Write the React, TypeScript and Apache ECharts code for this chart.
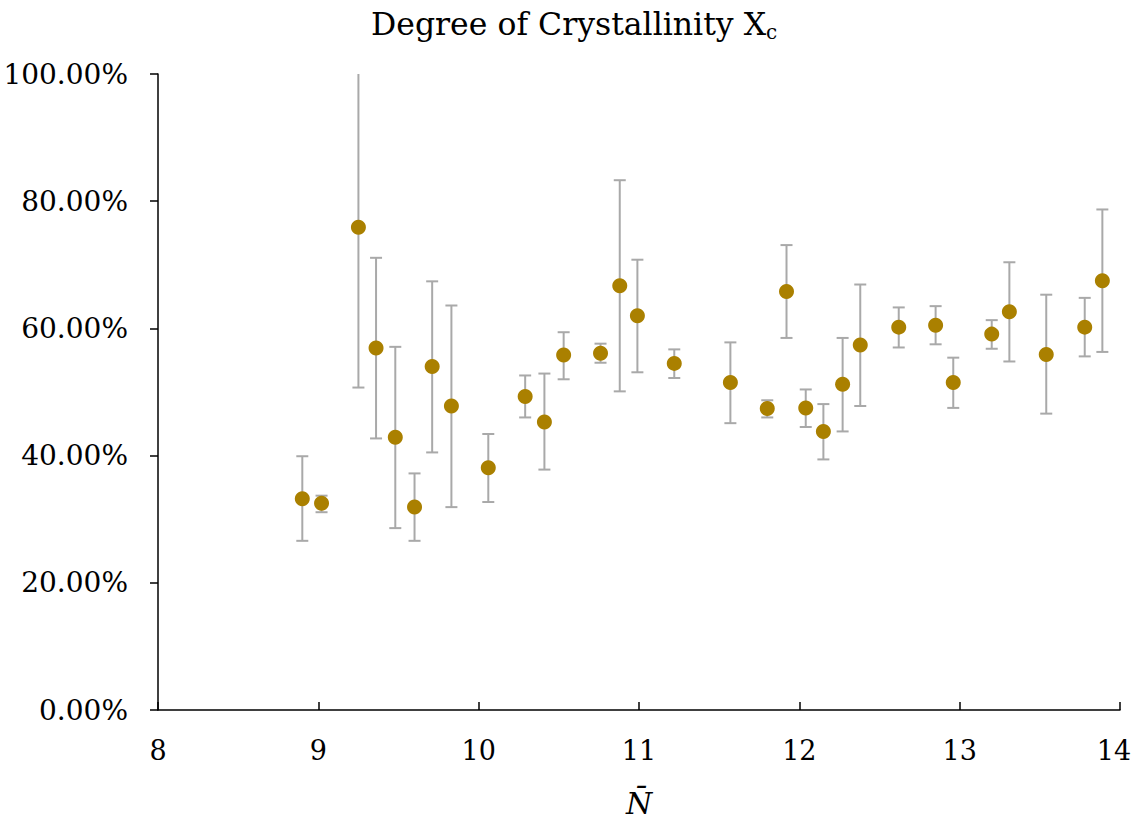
import React, { useEffect, useRef } from "react";
import * as echarts from "echarts";

const nValues = [8.9, 9.02, 9.25, 9.36, 9.48, 9.6, 9.71, 9.83, 10.06, 10.29, 10.41, 10.53, 10.76, 10.88, 10.99, 11.22, 11.57, 11.8, 11.92, 12.04, 12.15, 12.27, 12.38, 12.62, 12.85, 12.96, 13.2, 13.31, 13.54, 13.78, 13.89];
const xcValues = [33.2, 32.5, 75.9, 56.9, 42.9, 31.9, 54.0, 47.8, 38.1, 49.3, 45.3, 55.8, 56.1, 66.7, 62.0, 54.5, 51.5, 47.4, 65.8, 47.5, 43.8, 51.2, 57.4, 60.2, 60.5, 51.5, 59.1, 62.6, 55.9, 60.2, 67.5];
const errHigh = [39.9, 33.7, 100, 71.1, 57.1, 37.2, 67.4, 63.6, 43.4, 52.6, 52.9, 59.4, 57.6, 83.3, 70.8, 56.7, 57.8, 48.7, 73.1, 50.4, 48.1, 58.5, 66.9, 63.3, 63.5, 55.4, 61.3, 70.4, 65.3, 64.8, 78.7];
const errLow = [26.6, 31.1, 50.7, 42.7, 28.6, 26.6, 40.5, 31.9, 32.7, 46.0, 37.8, 52.0, 54.6, 50.1, 53.1, 52.2, 45.1, 46.0, 58.5, 44.5, 39.4, 43.8, 47.8, 57.0, 57.5, 47.5, 56.8, 54.8, 46.6, 55.6, 56.3];

const xMin = 8;
const xMax = 14;
const yMin = 0;
const yMax = 100;

const FONT = "DejaVu Serif";

export default function App() {
  const ref = useRef<HTMLDivElement>(null);

  useEffect(() => {
    if (!ref.current) return;
    const chart = echarts.init(ref.current, undefined, { renderer: "svg" });

    const points = nValues.map((x, i) => [x, xcValues[i]]);
    const errData = nValues.map((x, i) => [x, errLow[i], errHigh[i]]);

    const option: any = {
      animation: false,
      backgroundColor: "#ffffff",
      title: {
        text: "{a|Degree of Crystallinity X}{b|c}",
        left: 366,
        top: 1,
        textStyle: {
          fontWeight: "normal",
          rich: {
            a: { fontFamily: FONT, fontSize: 31.5, fontWeight: "normal", color: "#000", lineHeight: 36 },
            b: { fontFamily: FONT, fontSize: 20, fontWeight: "normal", color: "#000", lineHeight: 19, verticalAlign: "bottom" },
          },
        },
      },
      grid: { left: 158, right: 14, top: 74, bottom: 109, containLabel: false, outerBoundsMode: "none" },
      xAxis: {
        type: "value",
        min: xMin,
        max: xMax,
        interval: 1,
        name: "N\u0304",
        nameLocation: "middle",
        nameGap: 78,
        nameTextStyle: { fontFamily: FONT, fontSize: 30, fontStyle: "italic", color: "#000" },
        axisLine: { show: true, lineStyle: { color: "#000", width: 1.5 } },
        axisTick: { show: true, inside: true, length: 8, lineStyle: { color: "#000", width: 1.5 } },
        axisLabel: {
          fontFamily: FONT,
          fontSize: 27,
          color: "#000",
          margin: 27,
          formatter: (v: number) => (v === xMax ? "{m|" + v + "}" : String(v)),
          rich: {
            m: { fontFamily: FONT, fontSize: 27, color: "#000", padding: [0, 12, 0, 0] },
          },
        },
        splitLine: { show: false },
      },
      yAxis: {
        type: "value",
        min: yMin,
        max: yMax,
        interval: 20,
        axisLine: { show: true, lineStyle: { color: "#000", width: 1.5 } },
        axisTick: { show: true, inside: false, length: 8, lineStyle: { color: "#000", width: 1.5 } },
        axisLabel: {
          fontFamily: FONT,
          fontSize: 28,
          color: "#000",
          margin: 30,
          formatter: (v: number) => v.toFixed(2) + "%",
        },
        splitLine: { show: false },
      },
      series: [
        {
          type: "custom",
          data: errData,
          z: 1,
          renderItem: (params: any, api: any) => {
            const x = api.value(0);
            const lo = api.value(1);
            const hi = api.value(2);
            const pLo = api.coord([x, lo]);
            const pHi = api.coord([x, hi]);
            const hw = 6;
            const style = { stroke: "#a9a9a9", lineWidth: 2 };
            const children: any[] = [
              { type: "line", shape: { x1: pLo[0], y1: pLo[1], x2: pHi[0], y2: pHi[1] }, style },
              { type: "line", shape: { x1: pLo[0] - hw, y1: pLo[1], x2: pLo[0] + hw, y2: pLo[1] }, style },
            ];
            if (hi < yMax) {
              children.push({ type: "line", shape: { x1: pHi[0] - hw, y1: pHi[1], x2: pHi[0] + hw, y2: pHi[1] }, style });
            }
            return { type: "group", children };
          },
        },
        {
          type: "scatter",
          data: points,
          z: 3,
          symbol: "circle",
          symbolSize: 15,
          itemStyle: { color: "#aa8000", opacity: 1 },
        },
      ],
    };

    chart.setOption(option);
    return () => chart.dispose();
  }, []);

  return (
    <div
      ref={ref}
      style={{ position: "fixed", left: 0, top: 0, width: 1134, height: 819, background: "#fff" }}
    />
  );
}
